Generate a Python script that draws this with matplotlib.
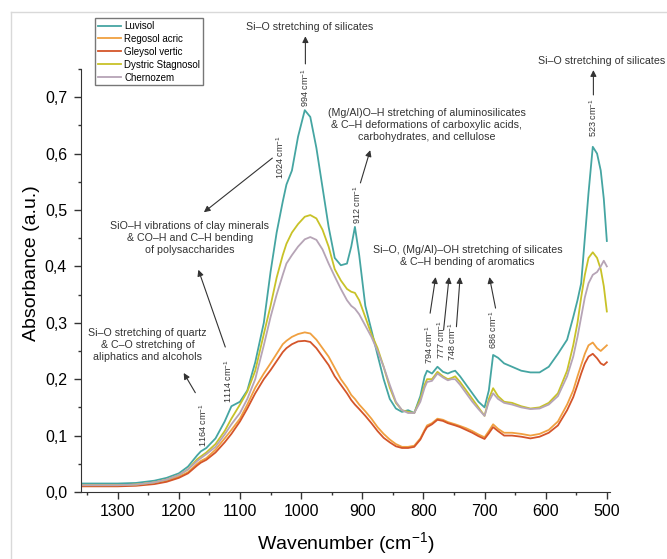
import matplotlib
matplotlib.use('Agg')
import matplotlib.pyplot as plt
from matplotlib.lines import Line2D
from matplotlib.ticker import MultipleLocator, FuncFormatter

plt.rcParams['font.family'] = ['Liberation Sans', 'DejaVu Sans']
plt.rcParams['mathtext.default'] = 'regular'

# wavenumbers (cm-1) shared by all spectra
wavenumber = [1360, 1330, 1300, 1270, 1240, 1220, 1200, 1185, 1170, 1164, 1155, 1140, 1125, 1114,
              1100, 1088, 1075, 1061, 1050, 1040, 1030, 1024, 1015, 1005, 994, 985, 975, 965, 955,
              945, 935, 925, 918, 912, 905, 895, 885, 875, 865, 855, 845, 835, 825, 815, 805, 798,
              794, 786, 777, 768, 760, 754, 748, 740, 730, 720, 710, 700, 693, 686, 678, 668, 655,
              640, 625, 610, 595, 580, 565, 555, 548, 542, 536, 530, 523, 516, 510, 505, 500]

luvisol = [.015, .015, .015, .016, .020, .025, .033, .045, .065, .072, .078, .095, .125, .152,
           .160, .180, .230, .300, .390, .460, .515, .545, .570, .630, .677, .665, .610, .540, .470,
           .415, .402, .405, .435, .470, .420, .330, .287, .243, .200, .165, .148, .142, .145, .140, .170, .205,
           .215, .210, .222, .213, .210, .213, .215, .205, .190, .175, .160, .150, .180, .243, .238, .228, .222,
           .215, .212, .212, .222, .245, .270, .310, .340, .370, .450, .530, .612, .600, .570, .520, .445]

regosol = [.012, .012, .012, .013, .016, .020, .027, .035, .050, .055, .060, .075, .095, .110,
           .130, .155, .185, .210, .228, .245, .262, .268, .275, .280, .283, .281, .270, .255, .240,
           .220, .200, .185, .172, .165, .155, .143, .130, .115, .103, .093, .085, .080, .080, .082, .095, .110,
           .118, .122, .130, .128, .124, .122, .120, .117, .113, .108, .102, .097, .108, .120, .112, .105, .105,
           .103, .100, .103, .110, .125, .155, .180, .205, .225, .245, .260, .265, .255, .250, .255, .260]

gleysol = [.010, .010, .010, .011, .014, .018, .025, .033, .047, .052, .057, .070, .088, .103,
           .125, .148, .175, .200, .216, .232, .248, .255, .262, .267, .268, .266, .255, .240, .225,
           .205, .190, .175, .163, .155, .147, .135, .122, .108, .096, .088, .081, .078, .078, .080, .093, .108,
           .115, .120, .128, .126, .122, .120, .118, .115, .110, .105, .099, .094, .104, .115, .108, .100, .100,
           .098, .095, .098, .105, .118, .145, .168, .190, .210, .228, .240, .245, .237, .228, .225, .230]

stagnosol = [.012, .012, .012, .013, .017, .022, .030, .040, .058, .063, .070, .085, .108, .130,
             .155, .178, .215, .280, .330, .380, .420, .440, .460, .475, .488, .491, .485, .465, .435,
             .395, .375, .360, .355, .353, .340, .310, .280, .255, .222, .185, .158, .145, .142, .140, .165, .190,
             .200, .200, .213, .205, .200, .202, .205, .195, .180, .165, .150, .135, .165, .184, .170, .160, .158,
             .152, .148, .150, .158, .175, .215, .260, .300, .345, .385, .415, .425, .415, .395, .365, .320]

chernozem = [.012, .012, .012, .013, .017, .022, .030, .040, .055, .060, .067, .080, .102, .120,
             .140, .165, .200, .260, .310, .350, .385, .405, .420, .435, .448, .452, .447, .430, .405,
             .382, .360, .340, .330, .325, .315, .295, .275, .250, .222, .190, .160, .145, .140, .140, .160, .185,
             .195, .197, .210, .203, .198, .200, .200, .190, .175, .160, .147, .135, .160, .175, .165, .158, .155,
             .150, .147, .148, .155, .170, .205, .240, .275, .310, .345, .370, .385, .390, .400, .410, .400]

names = ['Luvisol', 'Regosol acric', 'Gleysol vertic', 'Dystric Stagnosol', 'Chernozem']
colors = ['#45a5a2', '#f0a040', '#d4552a', '#c8c228', '#b6a4b6']
series = [luvisol, regosol, gleysol, stagnosol, chernozem]

fig = plt.figure(figsize=(6.67, 5.59), dpi=100)
ax = fig.add_axes([0.1214, 0.1199, 0.793, 0.7567])

for name, col, vals in zip(names, colors, series):
    ax.plot(wavenumber, vals, color=col, lw=1.3, label=name)

ax.set_xlim(1360, 495)
ax.set_ylim(0, 0.75)
ax.spines['top'].set_visible(False)
ax.spines['right'].set_visible(False)
ax.xaxis.set_major_locator(MultipleLocator(100))
ax.xaxis.set_minor_locator(MultipleLocator(50))
ax.yaxis.set_major_locator(MultipleLocator(0.1))
ax.yaxis.set_minor_locator(MultipleLocator(0.05))
ax.yaxis.set_major_formatter(FuncFormatter(lambda v, p: f'{v:.1f}'.replace('.', ',')))
ax.tick_params(which='major', direction='out', length=5, width=1, labelsize=11.5, color='#333333')
ax.tick_params(which='minor', direction='out', length=2.5, width=1, color='#333333')
ax.tick_params(axis='y', pad=5)
ax.tick_params(axis='x', pad=4)
for s in ['left', 'bottom']:
    ax.spines[s].set_color('#333333')

ax.set_xlabel('Wavenumber (cm$^{-1}$)', fontsize=14)
ax.set_ylabel('Absorbance (a.u.)', fontsize=14)
ax.xaxis.set_label_coords(0.5, -0.09)
ax.yaxis.set_label_coords(-0.078, 0.54)

leg = fig.legend(loc='upper left', bbox_to_anchor=(0.1424, 0.9678), fontsize=7,
                 frameon=True, fancybox=False, edgecolor='#777777', framealpha=1,
                 handlelength=2.4, handletextpad=0.3, labelspacing=0.3, borderpad=0.3,
                 borderaxespad=0)
leg.get_frame().set_linewidth(1)

# annotations
tc = '#333333'
fs = 7.7
lfs = 6.5
arrow = dict(arrowstyle='-|>', color='#333333', lw=0.8, mutation_scale=9, shrinkA=0, shrinkB=0)

def arr(tail, head):
    ax.annotate('', xy=head, xytext=tail, arrowprops=arrow, annotation_clip=False)

def lab(x, y, s):
    ax.text(x, y, s, rotation=90, ha='center', va='center', fontsize=lfs, color=tc, clip_on=False)

ax.text(986, 0.824, 'Si–O stretching of silicates', ha='center', va='center', fontsize=fs, color=tc, clip_on=False)
arr((993, 0.759), (993, 0.808))
lab(993, 0.716, '994 cm$^{-1}$')

lab(1035, 0.594, '1024 cm$^{-1}$')
arr((1047, 0.592), (1159, 0.496))
ax.text(1182, 0.450, 'SiO–H vibrations of clay minerals\n& CO–H and C–H bending\nof polysaccharides',
        ha='center', va='center', fontsize=fs, color=tc, linespacing=1.25)

lab(1119, 0.197, '1114 cm$^{-1}$')
arr((1124, 0.257), (1168, 0.394))

ax.text(1251, 0.261, 'Si–O stretching of quartz\n& C–O stretching of\naliphatics and alcohols',
        ha='center', va='center', fontsize=fs, color=tc, linespacing=1.25, clip_on=False)
lab(1161, 0.119, '1164 cm$^{-1}$')
arr((1173, 0.176), (1192, 0.211))

ax.text(795, 0.651, '(Mg/Al)O–H stretching of aluminosilicates\n& C–H deformations of carboxylic acids,\ncarbohydrates, and cellulose',
        ha='center', va='center', fontsize=fs, color=tc, linespacing=1.25)
lab(908, 0.509, '912 cm$^{-1}$')
arr((903, 0.548), (887, 0.606))

ax.text(728, 0.418, 'Si–O, (Mg/Al)–OH stretching of silicates\n& C–H bending of aromatics',
        ha='center', va='center', fontsize=fs, color=tc, linespacing=1.25)
arr((789, 0.317), (780, 0.381))
arr((767, 0.287), (758, 0.381))
arr((746, 0.293), (740, 0.381))
arr((682, 0.326), (692, 0.381))
lab(790, 0.261, '794 cm$^{-1}$')
lab(771, 0.270, '777 cm$^{-1}$')
lab(753, 0.266, '748 cm$^{-1}$')
lab(686, 0.287, '686 cm$^{-1}$')

ax.text(509, 0.764, 'Si–O stretching of silicates', ha='center', va='center', fontsize=fs, color=tc, clip_on=False)
arr((522, 0.704), (522, 0.748))
lab(522, 0.663, '523 cm$^{-1}$')

# light frame around the figure
fig.add_artist(Line2D([11 / 667, 1], [1 - 12 / 559, 1 - 12 / 559], transform=fig.transFigure, color='#d9d9d9', lw=1))
fig.add_artist(Line2D([11 / 667, 11 / 667], [0, 1 - 12 / 559], transform=fig.transFigure, color='#d9d9d9', lw=1))

fig.savefig('out.png', dpi=100)
